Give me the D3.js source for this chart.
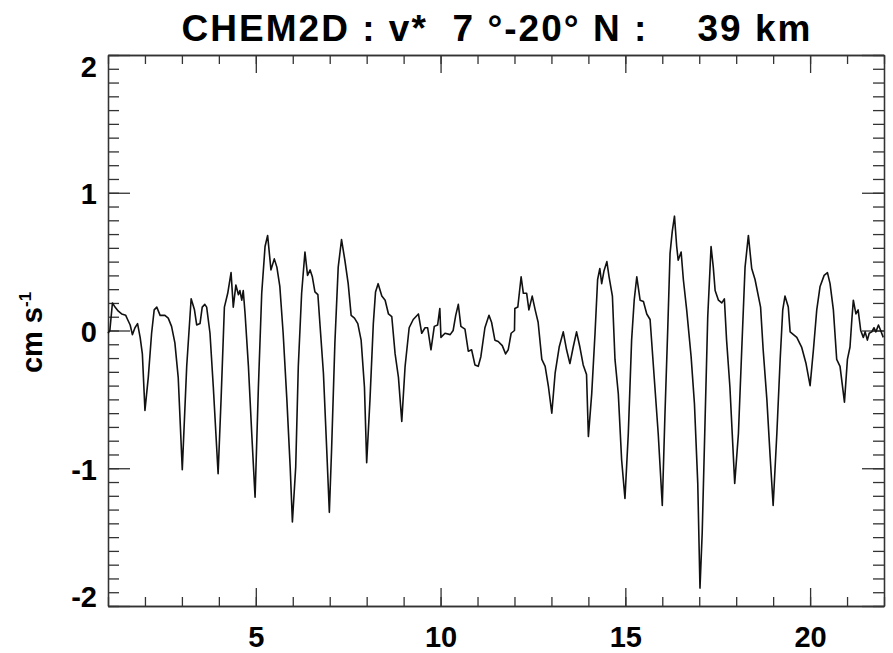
<!DOCTYPE html>
<html>
<head>
<meta charset="utf-8">
<script src="https://cdn.jsdelivr.net/npm/d3@7/dist/d3.min.js"></script>
<style>
  html, body { margin: 0; padding: 0; background: #fff; }
  svg { display: block; font-family: "Liberation Sans", Arial, Helvetica, sans-serif; font-weight: bold; }
  .axis path, .axis line { stroke: #333; stroke-width: 1.3; }
  .axis text { fill: #000; font-size: 29px; font-weight: bold; font-family: "Liberation Sans", Arial, sans-serif; }
</style>
</head>
<body>
<div id="chart"></div>
<script>
// v* (cm s-1), 7-20 N, 39 km
const xVals = [
  1.00, 1.05, 1.12, 1.19, 1.28, 1.37, 1.48, 1.53, 1.60, 1.66, 1.73, 1.80, 1.87, 1.93, 2.00, 2.09, 2.18, 2.25, 2.32, 2.41,
  2.54, 2.63, 2.72, 2.81, 2.90, 3.01, 3.13, 3.25, 3.34, 3.40, 3.49, 3.55, 3.62, 3.67, 3.76, 3.85, 3.98, 4.06, 4.15, 4.24,
  4.33, 4.39, 4.46, 4.53, 4.57, 4.62, 4.66, 4.71, 4.80, 4.89, 4.98, 5.07, 5.16, 5.25, 5.32, 5.41, 5.50, 5.57, 5.65, 5.74,
  5.84, 5.93, 5.99, 6.08, 6.15, 6.24, 6.33, 6.40, 6.47, 6.53, 6.60, 6.68, 6.74, 6.83, 6.92, 6.99, 7.05, 7.14, 7.23, 7.32,
  7.41, 7.50, 7.58, 7.67, 7.76, 7.85, 7.94, 8.00, 8.09, 8.18, 8.24, 8.31, 8.41, 8.50, 8.59, 8.68, 8.77, 8.86, 8.95, 9.04,
  9.15, 9.26, 9.40, 9.49, 9.58, 9.65, 9.74, 9.83, 9.92, 9.98, 10.01, 10.12, 10.26, 10.34, 10.41, 10.48, 10.55, 10.66, 10.75, 10.84,
  10.93, 11.02, 11.09, 11.20, 11.31, 11.38, 11.47, 11.56, 11.67, 11.76, 11.83, 11.91, 12.00, 12.01, 12.09, 12.18, 12.24, 12.33, 12.39, 12.48,
  12.56, 12.64, 12.74, 12.83, 12.92, 13.01, 13.10, 13.21, 13.32, 13.41, 13.50, 13.59, 13.68, 13.77, 13.86, 13.95, 14.00, 14.09, 14.18, 14.25,
  14.31, 14.36, 14.42, 14.50, 14.56, 14.65, 14.72, 14.81, 14.90, 14.99, 15.08, 15.17, 15.24, 15.31, 15.40, 15.49, 15.58, 15.67, 15.80, 15.89,
  16.00, 16.07, 16.15, 16.21, 16.27, 16.33, 16.39, 16.43, 16.51, 16.57, 16.66, 16.78, 16.87, 16.96, 17.02, 17.08, 17.16, 17.23, 17.32, 17.38,
  17.43, 17.52, 17.61, 17.68, 17.74, 17.83, 17.96, 18.06, 18.15, 18.24, 18.33, 18.42, 18.51, 18.66, 18.73, 18.83, 18.92, 19.00, 19.10, 19.19,
  19.26, 19.32, 19.41, 19.46, 19.55, 19.64, 19.77, 19.89, 20.00, 20.09, 20.18, 20.27, 20.38, 20.47, 20.54, 20.63, 20.72, 20.81, 20.93, 21.01,
  21.08, 21.13, 21.17, 21.24, 21.30, 21.37, 21.44, 21.49, 21.55, 21.60, 21.67, 21.73, 21.78, 21.85, 21.91, 21.98
];
const vVals = [
  -0.02, 0.00, 0.20, 0.17, 0.14, 0.12, 0.11, 0.08, 0.04, -0.03, 0.02, 0.05, -0.05, -0.17, -0.58, -0.34, -0.02, 0.15, 0.17, 0.11,
  0.11, 0.09, 0.03, -0.09, -0.34, -1.01, -0.26, 0.23, 0.15, 0.04, 0.05, 0.17, 0.19, 0.17, -0.02, -0.41, -1.04, -0.50, 0.17, 0.27,
  0.42, 0.17, 0.33, 0.26, 0.29, 0.22, 0.29, 0.12, -0.26, -0.75, -1.21, -0.41, 0.27, 0.61, 0.69, 0.44, 0.52, 0.46, 0.32, -0.02,
  -0.50, -0.99, -1.39, -0.99, -0.26, 0.27, 0.57, 0.40, 0.44, 0.39, 0.28, 0.26, 0.03, -0.31, -0.87, -1.32, -0.87, -0.09, 0.46, 0.66,
  0.51, 0.34, 0.11, 0.09, 0.05, -0.07, -0.41, -0.96, -0.50, 0.05, 0.28, 0.34, 0.25, 0.22, 0.12, 0.10, -0.17, -0.34, -0.66, -0.26,
  0.02, 0.08, 0.12, -0.02, 0.02, 0.02, -0.14, 0.03, 0.04, 0.16, -0.05, -0.02, -0.03, 0.00, 0.11, 0.19, 0.03, 0.01, -0.15, -0.14,
  -0.25, -0.26, -0.19, 0.02, 0.11, 0.06, -0.07, -0.08, -0.11, -0.17, -0.14, -0.02, 0.00, 0.16, 0.17, 0.39, 0.27, 0.27, 0.15, 0.25,
  0.15, 0.06, -0.21, -0.26, -0.41, -0.60, -0.31, -0.12, -0.01, -0.14, -0.24, -0.12, -0.01, -0.12, -0.25, -0.32, -0.77, -0.46, -0.02, 0.37,
  0.45, 0.34, 0.43, 0.50, 0.39, 0.25, -0.21, -0.46, -0.94, -1.22, -0.75, -0.07, 0.22, 0.39, 0.22, 0.21, 0.12, 0.08, -0.41, -0.75,
  -1.27, -0.63, 0.03, 0.56, 0.72, 0.83, 0.61, 0.51, 0.57, 0.37, 0.15, -0.19, -0.53, -1.11, -1.87, -1.47, -0.63, 0.10, 0.61, 0.46,
  0.29, 0.22, 0.20, 0.23, -0.07, -0.41, -1.11, -0.75, -0.14, 0.46, 0.69, 0.45, 0.37, 0.17, -0.14, -0.50, -0.92, -1.27, -0.75, -0.21,
  0.15, 0.25, 0.17, -0.01, -0.03, -0.05, -0.12, -0.24, -0.40, -0.14, 0.15, 0.32, 0.40, 0.42, 0.34, 0.15, -0.21, -0.26, -0.52, -0.21,
  -0.12, 0.08, 0.22, 0.12, 0.15, 0.00, -0.05, -0.01, -0.07, -0.02, -0.01, 0.02, -0.01, 0.04, 0.00, -0.05
];
const xDomain = [1, 22];
const yDomain = [-2, 2];
const xMajorTicks = [5, 10, 15, 20];
const xMinorTicks = d3.range(1, 23);
const yMajorTicks = [-2, -1, 0, 1, 2];
const yMinorTicks = d3.range(-20, 21).map(i => i / 10);
const titleText = 'CHEM2D : v*  7 °-20° N :    39 km';

const W = 893, H = 653;
const M = { t: 55, r: 9, b: 47, l: 108 };

const svg = d3.select('#chart').append('svg')
  .attr('width', W)
  .attr('height', H)
  .attr('viewBox', `0 0 ${W} ${H}`);

const x = d3.scaleLinear().domain(xDomain).range([M.l, W - M.r]);
const y = d3.scaleLinear().domain(yDomain).range([H - M.b, M.t]);
const pw = W - M.l - M.r, ph = H - M.t - M.b;
const fmt = d => String(d); // plain hyphen minus like the IDL plot

// minor ticks, all four sides
svg.append('g').attr('class', 'axis').attr('transform', `translate(0,${H - M.b})`)
  .call(d3.axisBottom(x).tickValues(xMinorTicks).tickSize(-9).tickSizeOuter(0).tickFormat(''));
svg.append('g').attr('class', 'axis').attr('transform', `translate(0,${M.t})`)
  .call(d3.axisTop(x).tickValues(xMinorTicks).tickSize(-9).tickSizeOuter(0).tickFormat(''));
svg.append('g').attr('class', 'axis').attr('transform', `translate(${M.l},0)`)
  .call(d3.axisLeft(y).tickValues(yMinorTicks).tickSize(-11).tickSizeOuter(0).tickFormat(''));
svg.append('g').attr('class', 'axis').attr('transform', `translate(${W - M.r},0)`)
  .call(d3.axisRight(y).tickValues(yMinorTicks).tickSize(-11).tickSizeOuter(0).tickFormat(''));

// major ticks + labels
svg.append('g').attr('class', 'axis').attr('transform', `translate(0,${H - M.b})`)
  .call(d3.axisBottom(x).tickValues(xMajorTicks).tickSize(-18).tickSizeOuter(0).tickPadding(20).tickFormat(fmt));
svg.append('g').attr('class', 'axis').attr('transform', `translate(0,${M.t})`)
  .call(d3.axisTop(x).tickValues(xMajorTicks).tickSize(-18).tickSizeOuter(0).tickFormat(''));
const yAx = svg.append('g').attr('class', 'axis').attr('transform', `translate(${M.l},0)`)
  .call(d3.axisLeft(y).tickValues(yMajorTicks).tickSize(-22).tickSizeOuter(0).tickPadding(11).tickFormat(fmt));
svg.append('g').attr('class', 'axis').attr('transform', `translate(${W - M.r},0)`)
  .call(d3.axisRight(y).tickValues(yMajorTicks).tickSize(-22).tickSizeOuter(0).tickFormat(''));

// end labels sit inside the frame, as IDL draws them
yAx.selectAll('.tick text')
  .attr('dy', d => d === yDomain[1] ? '0.75em' : d === yDomain[0] ? '0.02em' : '0.38em');

// data line
svg.append('path')
  .datum(d3.zip(xVals, vVals))
  .attr('fill', 'none')
  .attr('stroke', '#111')
  .attr('stroke-width', 1.6)
  .attr('stroke-linejoin', 'round')
  .attr('d', d3.line().x(d => x(d[0])).y(d => y(d[1])));

// title
svg.append('text')
  .attr('x', M.l + pw / 2)
  .attr('y', 41)
  .attr('text-anchor', 'middle')
  .attr('textLength', 629)
  .attr('lengthAdjust', 'spacing')
  .style('white-space', 'pre')
  .style('font-size', '37px')
  .text(titleText);

// y-axis label
const yl = svg.append('text')
  .attr('transform', `translate(42,${M.t + ph / 2 + 2}) rotate(-90)`)
  .attr('text-anchor', 'middle')
  .style('font-size', '29px');
yl.append('tspan').text('cm s');
yl.append('tspan').attr('dy', -11).style('font-size', '17px').text('-1');
</script>
</body>
</html>
